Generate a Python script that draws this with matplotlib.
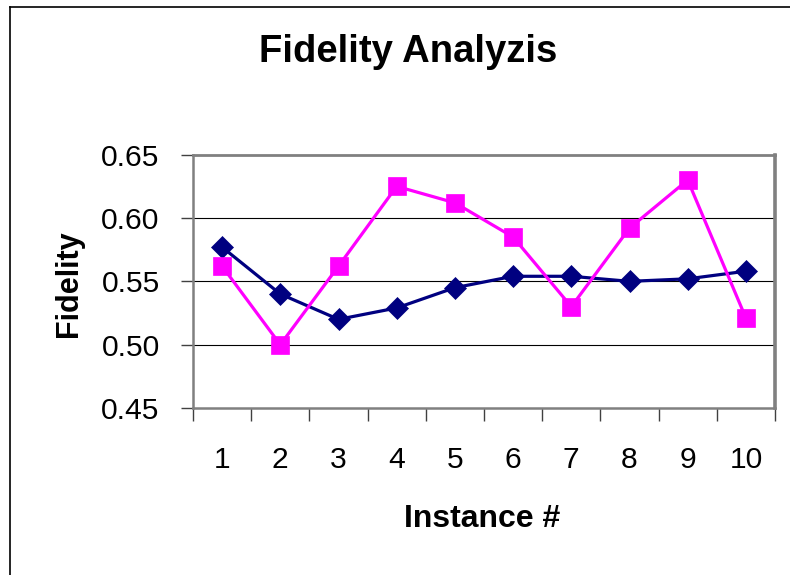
import matplotlib
matplotlib.use("Agg")
from matplotlib import pyplot as plt
from matplotlib.lines import Line2D

# Fidelity per instance, two runs
instances = ["1", "2", "3", "4", "5", "6", "7", "8", "9", "10"]
run_a = [0.577, 0.540, 0.520, 0.529, 0.545, 0.554, 0.554, 0.550, 0.552, 0.558]
run_b = [0.562, 0.500, 0.562, 0.625, 0.612, 0.585, 0.530, 0.592, 0.630, 0.521]
y_ticks = [0.45, 0.50, 0.55, 0.60, 0.65]

plt.rcParams["font.family"] = ["Liberation Sans", "DejaVu Sans"]

W, H = 790, 575
fig = plt.figure(figsize=(W / 100, H / 100), dpi=100)
ax = fig.add_axes([193 / W, 1 - 408 / H, (775 - 193) / W, (408 - 154.7) / H])

x = list(range(len(instances)))
ax.plot(x, run_a, color="#000080", lw=2.3, marker="D", ms=11.3,
        mec="#000080", mew=0.5, zorder=3)
ax.plot(x, run_b, color="#FF00FF", lw=2.3, marker="s", ms=12.4,
        mec="#FF00FF", mew=0.5, zorder=3)

ax.set_xlim(-0.5, len(instances) - 0.5)
ax.set_ylim(y_ticks[0], y_ticks[-1])

# category boundaries get the tick marks, labels sit in between
ax.set_xticks([i - 0.5 for i in range(len(instances) + 1)])
ax.set_xticklabels([])
ax.set_xticks(x, minor=True)
ax.set_xticklabels(instances, minor=True)
ax.tick_params(axis="x", which="major", direction="out", length=9,
               width=1, color="#404040")
ax.tick_params(axis="x", which="minor", length=0, pad=27, labelsize=21.6)

ax.set_yticks(y_ticks)
ax.set_yticklabels([f"{v:.2f}" for v in y_ticks])
ax.tick_params(axis="y", direction="out", length=9, width=1,
               color="#404040", pad=15, labelsize=21.6)

for v in y_ticks[1:-1]:
    ax.axhline(v, color="black", lw=0.8, zorder=1)

for side, w in (("top", 2.0), ("right", 2.6), ("left", 1.8), ("bottom", 1.8)):
    ax.spines[side].set_color("#808080")
    ax.spines[side].set_linewidth(w)

fig.text(408 / W, 1 - 61.7 / H, "Fidelity Analyzis", ha="center",
         va="baseline", fontsize=27.5, fontweight="bold")
fig.text(482 / W, 1 - 526.7 / H, "Instance #", ha="center",
         va="baseline", fontsize=23, fontweight="bold")
fig.text(76.5 / W, 1 - 284 / H, "Fidelity", ha="center", va="baseline",
         rotation=90, rotation_mode="anchor", fontsize=22, fontweight="bold")

# chart frame (top and left edges)
fig.add_artist(Line2D([10 / W, 1], [1 - 7 / H, 1 - 7 / H], color="black", lw=1.2))
fig.add_artist(Line2D([10 / W, 10 / W], [0, 1 - 7 / H], color="black", lw=1.2))

fig.savefig("out.png", dpi=100)
